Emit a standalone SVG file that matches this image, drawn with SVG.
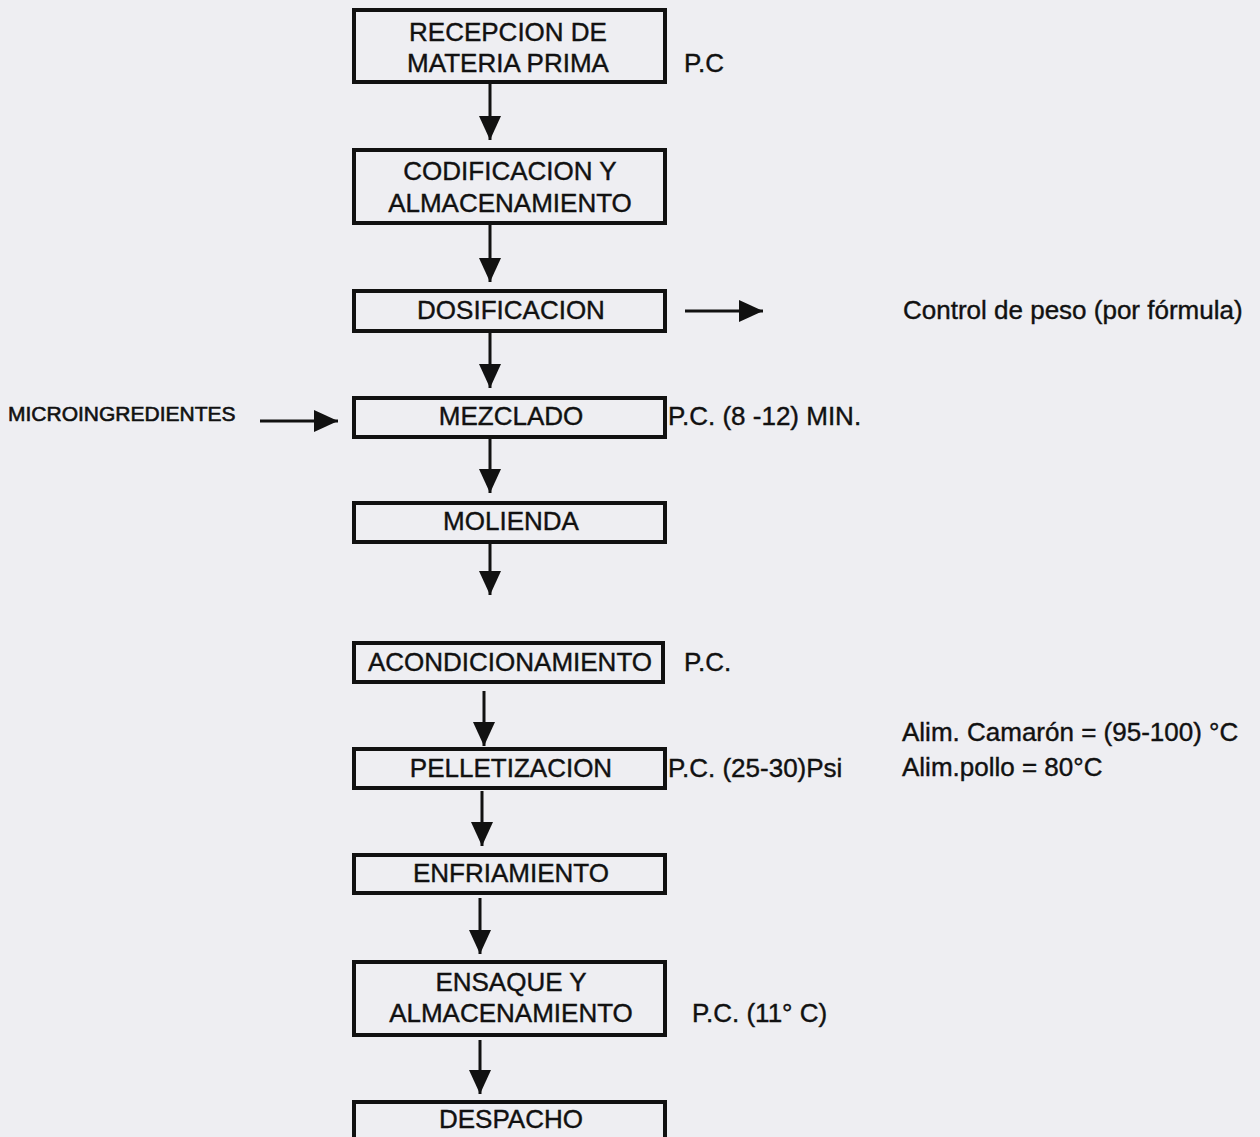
<svg xmlns="http://www.w3.org/2000/svg" width="1260" height="1137" viewBox="0 0 1260 1137">
<style>
.box{fill:#eeeef2;stroke:#111;stroke-width:4}
.t{font-family:"Liberation Sans",Arial,sans-serif;font-size:26px;fill:#111;stroke:#111;stroke-width:0.4}
.c{text-anchor:middle}
.s{font-size:21px;stroke-width:0.6}
.conn line{stroke:#111;stroke-width:3}
</style>
<defs>
<marker id="ah" viewBox="0 0 24 22" refX="24" refY="11" markerWidth="24" markerHeight="22" markerUnits="userSpaceOnUse" orient="auto">
<path d="M0,0 L24,11 L0,22 z" fill="#111"/>
</marker>
</defs>
<rect width="1260" height="1137" fill="#eeeef2"/>
<g id="n1"><rect class="box" x="354" y="10" width="311" height="72"/><text class="t c" x="508" y="41">RECEPCION DE</text><text class="t c" x="508" y="72">MATERIA PRIMA</text></g>
<g id="n2"><rect class="box" x="354" y="150" width="311" height="73"/><text class="t c" x="510" y="180">CODIFICACION Y</text><text class="t c" x="510" y="212">ALMACENAMIENTO</text></g>
<g id="n3"><rect class="box" x="354" y="291" width="311" height="40"/><text class="t c" x="511" y="319">DOSIFICACION</text></g>
<g id="n4"><rect class="box" x="354" y="398" width="311" height="39"/><text class="t c" x="511" y="425">MEZCLADO</text></g>
<g id="n5"><rect class="box" x="354" y="503" width="311" height="39"/><text class="t c" x="511" y="530">MOLIENDA</text></g>
<g id="n6"><rect class="box" x="354" y="643" width="309" height="39"/><text class="t c" x="510" y="671">ACONDICIONAMIENTO</text></g>
<g id="n7"><rect class="box" x="354" y="749" width="311" height="39"/><text class="t c" x="511" y="777">PELLETIZACION</text></g>
<g id="n8"><rect class="box" x="354" y="855" width="311" height="38"/><text class="t c" x="511" y="882">ENFRIAMIENTO</text></g>
<g id="n9"><rect class="box" x="354" y="962" width="311" height="73"/><text class="t c" x="511" y="991">ENSAQUE Y</text><text class="t c" x="511" y="1022">ALMACENAMIENTO</text></g>
<g id="n10"><rect class="box" x="354" y="1102" width="311" height="40"/><text class="t c" x="511" y="1128">DESPACHO</text></g>
<g id="labels">
<text class="t" x="684" y="72">P.C</text>
<text class="t" x="903" y="319">Control de peso (por fórmula)</text>
<text class="t s" x="8" y="421">MICROINGREDIENTES</text>
<text class="t" x="668" y="425">P.C. (8 -12) MIN.</text>
<text class="t" x="684" y="671">P.C.</text>
<text class="t" x="902" y="741">Alim. Camarón = (95-100) °C</text>
<text class="t" x="668" y="777">P.C. (25-30)Psi</text>
<text class="t" x="902" y="776">Alim.pollo = 80°C</text>
<text class="t" x="692" y="1022">P.C. (11° C)</text>
</g>
<g class="conn">
<line x1="490" y1="84" x2="490" y2="140" marker-end="url(#ah)"/>
<line x1="490" y1="225" x2="490" y2="282" marker-end="url(#ah)"/>
<line x1="685" y1="311" x2="763" y2="311" marker-end="url(#ah)"/>
<line x1="490" y1="333" x2="490" y2="388" marker-end="url(#ah)"/>
<line x1="260" y1="421" x2="338" y2="421" marker-end="url(#ah)"/>
<line x1="490" y1="439" x2="490" y2="493" marker-end="url(#ah)"/>
<line x1="490" y1="544" x2="490" y2="595" marker-end="url(#ah)"/>
<line x1="484" y1="691" x2="484" y2="746" marker-end="url(#ah)"/>
<line x1="482" y1="791" x2="482" y2="846" marker-end="url(#ah)"/>
<line x1="480" y1="898" x2="480" y2="954" marker-end="url(#ah)"/>
<line x1="480" y1="1040" x2="480" y2="1094" marker-end="url(#ah)"/>
</g>
</svg>
